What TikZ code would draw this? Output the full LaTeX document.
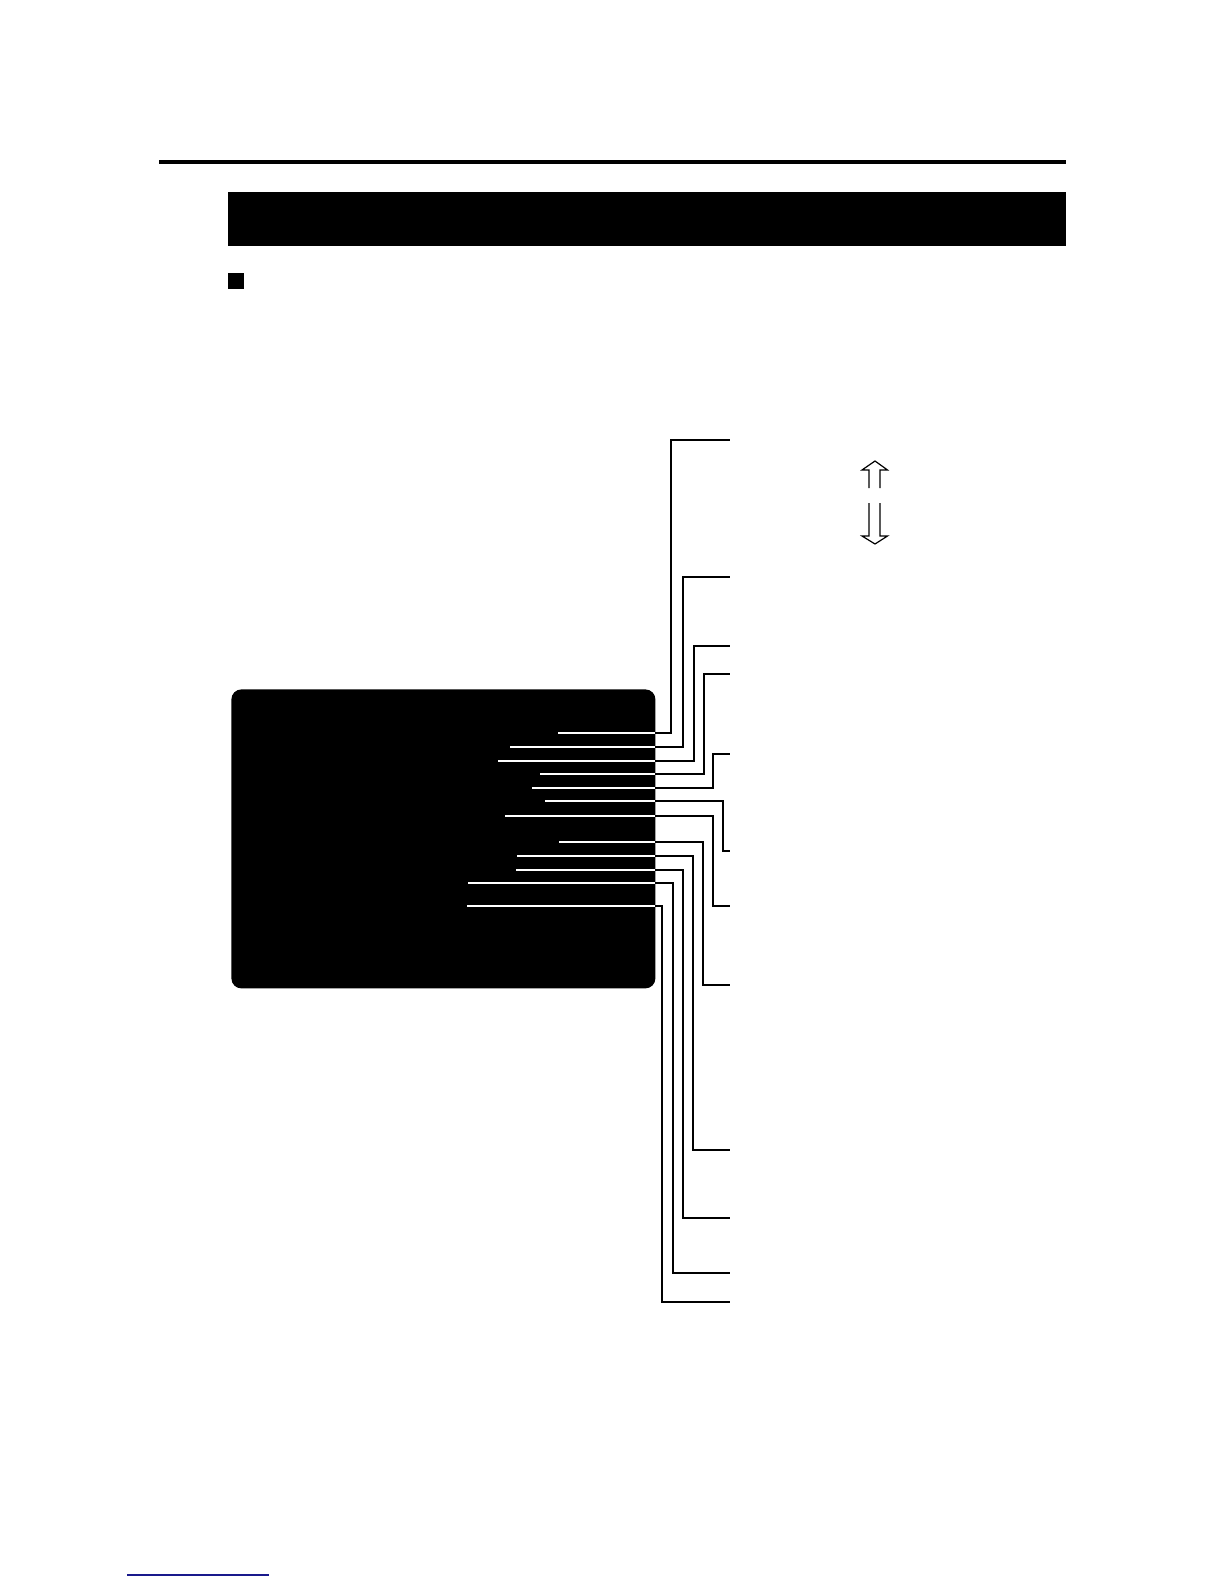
\documentclass[tikz,border=0pt]{standalone}
\begin{document}
\begin{tikzpicture}[x=0.5pt,y=-0.5pt,
  leaderw/.style={white,line width=0.9pt},
  leaderb/.style={black,line width=1.3pt},
  hollowarrow/.style={black,line width=0.6pt,line join=miter}]
\useasboundingbox (0,0) rectangle (1224,1584);
% top rule and title bar
\fill[black] (159,160) rectangle (1066,164);
\node[fill=black,inner sep=0pt,minimum width=419pt,minimum height=27pt,anchor=north west] (bar) at (228,192) {};
\node[fill=black,inner sep=0pt,minimum size=8pt,anchor=north west] (sq) at (228,273) {};
% screen
\node[fill=black,rounded corners=5pt,inner sep=0pt,minimum width=212pt,minimum height=149.5pt,anchor=north west] (screen) at (231,689) {};
% leaders: start y, inner left x, vertical x, target y
\foreach \i/\ys/\xl/\xv/\yt in {
  1/733/558/671/440, 2/747/510/683/577, 3/761/498/694/646,
  4/774/540/704/674, 5/788/532/713/754, 6/801/545/723/851,
  7/816/505/713/906, 8/842/559/703/985, 9/856/517/693/1150,
  10/870/516/683/1218, 11/883/468/673/1273, 12/906/467/662/1302}{
  \coordinate (in\i) at (\xl,\ys);
  \coordinate (edge\i) at (655,\ys);
  \coordinate (end\i) at (730,\yt);
  \draw[leaderw] (in\i) -- (edge\i);
  \draw[leaderb,line join=miter] (edge\i) -- (\xv,\ys) -- (\xv,\yt) -- (end\i);
}
% hollow arrows
\draw[hollowarrow] (869,488) -- (869,470) -- (862,470) -- (875,461) -- (887.5,470) -- (880,470) -- (880,488);
\draw[hollowarrow] (869,503) -- (869,536) -- (862,536) -- (875,544) -- (887.5,536) -- (880,536) -- (880,503);
% bottom link line
\coordinate (la) at (127,1575);
\coordinate (lb) at (269,1575);
\definecolor{linkblue}{RGB}{25,25,140}
\draw[linkblue,line width=0.8pt] (la) -- (lb);
\end{tikzpicture}
\end{document}
